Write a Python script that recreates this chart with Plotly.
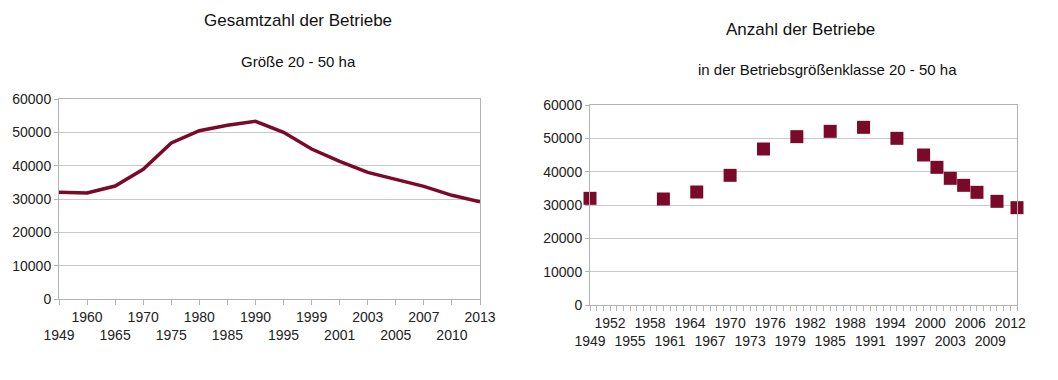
import plotly.graph_objects as go

years = [1949, 1960, 1965, 1970, 1975, 1980, 1985, 1990, 1995, 1999, 2001, 2003, 2005, 2007, 2010, 2013]
betriebe = [32000, 31800, 33900, 38900, 46800, 50500, 52100, 53300, 50000, 45000, 41300, 38000, 35900, 33800, 31100, 29200]

left_title = "Gesamtzahl der Betriebe"
left_sub = "Größe 20 - 50 ha"
right_title = "Anzahl der Betriebe"
right_sub = "in der Betriebsgrößenklasse 20 - 50 ha"

W, H = 1058, 380
color = "#7b0a2a"
grid = "#c8c8c8"
axcol = "#b3b3b3"
font = "Liberation Sans, Arial, sans-serif"

def px(x):
    return x / W

def py(y):
    return (H - y) / H

# left: categorical positions
cat_idx = list(range(len(years)))
left_text = [(f"<br>{y}" if i % 2 == 0 else f"{y}") for i, y in enumerate(years)]

right_ticks = list(range(1949, 2013, 3))
right_text = [(f"<br>{y}" if i % 2 == 0 else f"{y}") for i, y in enumerate(right_ticks)]

fig = go.Figure()
fig.add_trace(go.Scatter(x=cat_idx, y=betriebe, mode="lines",
                         line=dict(color=color, width=3.5), xaxis="x", yaxis="y",
                         showlegend=False, hoverinfo="skip"))
fig.add_trace(go.Scatter(x=years, y=betriebe, mode="markers",
                         marker=dict(symbol="square", size=13, color=color),
                         xaxis="x2", yaxis="y2", showlegend=False, hoverinfo="skip", cliponaxis=False))

yax = dict(range=[0, 60000], tickvals=[0, 10000, 20000, 30000, 40000, 50000, 60000],
           tickformat="d", showgrid=True, gridcolor=grid, gridwidth=1,
           showline=True, linecolor=axcol, linewidth=1, mirror=True,
           ticks="outside", ticklen=4, tickcolor=axcol, automargin=False,
           tickfont=dict(family=font, size=14, color="#222"), zeroline=False)

fig.update_layout(
    template="none",
    width=W, height=H, margin=dict(l=0, r=0, t=0, b=0, pad=0),
    paper_bgcolor="white", plot_bgcolor="white",
    xaxis=dict(domain=[px(59), px(480)], range=[0, len(years) - 1],
               tickvals=cat_idx, ticktext=left_text, tickangle=0, automargin=False,
               showgrid=False, showline=True, linecolor=axcol, linewidth=1, mirror=True,
               ticks="outside", ticklen=5, tickcolor=axcol, zeroline=False,
               tickfont=dict(family=font, size=14, color="#222"), anchor="y"),
    yaxis=dict(domain=[py(299), py(99)], anchor="x", **yax),
    xaxis2=dict(domain=[px(590), px(1017)], range=[1949, 2013],
                tickvals=right_ticks, ticktext=right_text, tickangle=0, automargin=False,
                showgrid=False, showline=True, linecolor=axcol, linewidth=1, mirror=True,
                ticks="outside", ticklen=5, tickcolor=axcol, zeroline=False,
                minor=dict(dtick=1, tick0=1949, ticks="outside", ticklen=5, tickcolor=axcol, showgrid=False),
                tickfont=dict(family=font, size=14, color="#222"), anchor="y2"),
    yaxis2=dict(domain=[py(305), py(105)], anchor="x2", **yax),
    annotations=[
        dict(text=left_title, x=px(298), y=py(21), xref="paper", yref="paper", showarrow=False,
             font=dict(family=font, size=17, color="#111"), xanchor="center", yanchor="middle"),
        dict(text=left_sub, x=px(298), y=py(61), xref="paper", yref="paper", showarrow=False,
             font=dict(family=font, size=15, color="#111"), xanchor="center", yanchor="middle"),
        dict(text=right_title, x=px(800), y=py(29), xref="paper", yref="paper", showarrow=False,
             font=dict(family=font, size=17, color="#111"), xanchor="center", yanchor="middle"),
        dict(text=right_sub, x=px(827), y=py(69), xref="paper", yref="paper", showarrow=False,
             font=dict(family=font, size=15, color="#111"), xanchor="center", yanchor="middle"),
    ],
)

fig.write_html("out.html", config={"displayModeBar": False},
               post_script="document.body.style.margin='0';document.body.style.padding='0';")
